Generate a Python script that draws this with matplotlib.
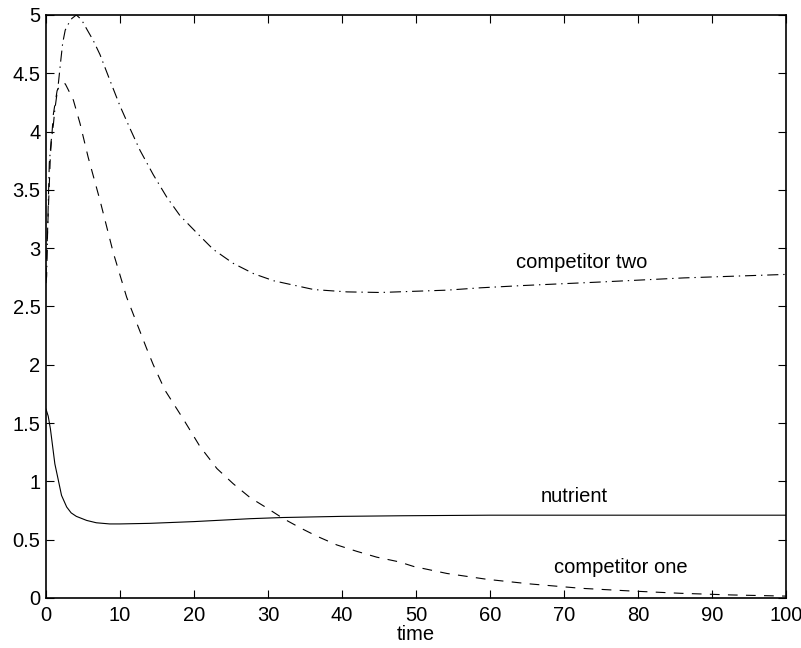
import matplotlib
matplotlib.use("Agg")
import matplotlib.pyplot as plt

# ---------------------------------- #
# ---------------DATA--------------- #
# ---------------------------------- #

# Nutrient (solid line)
t_nutrient = [0, 0.3, 0.6, 0.9, 1.2, 1.67, 2.1, 2.8, 3.4, 4.1, 5.5, 6.8, 8.6,
              10, 14, 20, 27.6, 32, 40, 48, 60, 80, 100]
nutrient = [1.62, 1.56, 1.45, 1.30, 1.15, 1.01, 0.88, 0.78, 0.73, 0.70, 0.665,
            0.645, 0.635, 0.635, 0.64, 0.655, 0.68, 0.69, 0.70, 0.705, 0.71,
            0.71, 0.71]

# Competitor one (dashed line)
t_one = [0, 0.3, 0.6, 1.0, 1.5, 2.0, 2.6, 3.0, 3.7, 4.6, 5.7, 7.3, 9.1, 10.9,
         13.6, 14.5, 16.1, 18.6, 20.8, 23.1, 25.3, 27.6, 29.9, 32.1, 34.4,
         36.6, 39.3, 42.0, 44.7, 47.7, 49.7, 54.2, 59.6, 65.5, 72.3, 79.0,
         85.8, 92.6, 100]
comp_one = [2.75, 3.3, 3.8, 4.15, 4.35, 4.41, 4.41, 4.36, 4.27, 4.07, 3.78,
            3.41, 2.96, 2.58, 2.14, 2.0, 1.78, 1.53, 1.30, 1.11, 0.98, 0.86,
            0.77, 0.68, 0.60, 0.53, 0.455, 0.40, 0.35, 0.31, 0.27, 0.21, 0.16,
            0.12, 0.083, 0.06, 0.04, 0.026, 0.016]

# Competitor two (dash-dot line)
t_two = [0, 0.09, 0.23, 0.45, 0.7, 1.0, 1.2, 1.67, 2.0, 2.26, 2.6, 3.0, 3.5,
         4.1, 4.8, 5.5, 6.4, 7.3, 8.7, 10.0, 11.4, 12.7, 14.5, 16.3, 18.1,
         20.4, 22.6, 25.3, 28.1, 30.8, 34.4, 36.2, 40.7, 45.2, 49.7, 54.2,
         58.7, 64.6, 75.0, 86.2, 100]
comp_two = [2.7, 2.76, 3.18, 3.73, 3.92, 4.06, 4.19, 4.41, 4.61, 4.76, 4.87,
            4.92, 4.97, 5.0, 4.96, 4.88, 4.78, 4.66, 4.43, 4.22, 4.02, 3.84,
            3.63, 3.44, 3.28, 3.13, 2.99, 2.87, 2.78, 2.72, 2.67, 2.645, 2.625,
            2.62, 2.63, 2.64, 2.66, 2.68, 2.71, 2.745, 2.775]

x_ticks = [0, 10, 20, 30, 40, 50, 60, 70, 80, 90, 100]
y_ticks = [0, 0.5, 1, 1.5, 2, 2.5, 3, 3.5, 4, 4.5, 5]
y_tick_labels = ['0', '0.5', '1', '1.5', '2', '2.5', '3', '3.5', '4', '4.5', '5']

# ---------------------------------- #
# ---------------PLOT--------------- #
# ---------------------------------- #

plt.rcParams['font.family'] = ['Liberation Sans', 'DejaVu Sans']
plt.rcParams['lines.scale_dashes'] = False

fig = plt.figure(figsize=(8.01, 6.48), dpi=100)
ax = fig.add_axes([0.0574, 0.0772, 0.9238, 0.8997])

ax.plot(t_nutrient, nutrient, color='black', linewidth=0.8)
ax.plot(t_one, comp_one, color='black', linewidth=0.8, dashes=(7, 6))
ax.plot(t_two, comp_two, color='black', linewidth=0.8, dashes=(8, 3.5, 1, 3.5))

# Curve labels
ax.text(63.5, 2.88, 'competitor two', fontsize=14.5, va='center')
ax.text(66.8, 0.87, 'nutrient', fontsize=14.5, va='center')
ax.text(68.6, 0.26, 'competitor one', fontsize=14.5, va='center')

ax.set_xlim(0, 100)
ax.set_ylim(0, 5)
ax.set_xticks(x_ticks)
ax.set_yticks(y_ticks)
ax.set_yticklabels(y_tick_labels)
ax.tick_params(direction='in', top=True, right=True, length=6, width=0.8,
               labelsize=14.5)
ax.tick_params(axis='x', pad=6)
ax.tick_params(axis='y', pad=4)
for spine in ax.spines.values():
    spine.set_linewidth(1.2)
ax.set_xlabel('time', fontsize=14.5, labelpad=0)

fig.savefig('out.png', dpi=100)
plt.close()
